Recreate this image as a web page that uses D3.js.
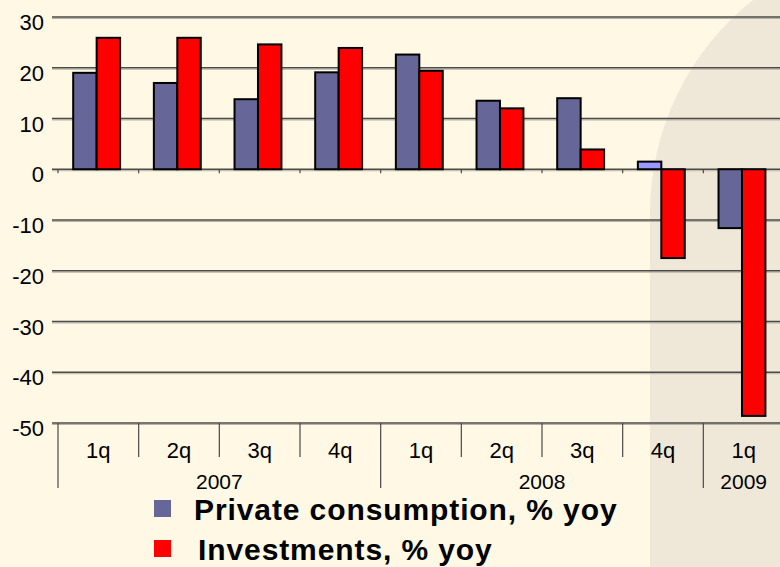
<!DOCTYPE html>
<html>
<head>
<meta charset="utf-8">
<script src="https://cdn.jsdelivr.net/npm/d3@7"></script>
<style>
  html, body { margin: 0; padding: 0; background: #fef8e4; }
  svg { display: block; font-family: "Liberation Sans", Arial, sans-serif; }
</style>
</head>
<body>
<div id="chart"></div>
<script>
var quarters = ['1q', '2q', '3q', '4q', '1q', '2q', '3q', '4q', '1q'];
var yearLabels = ['2007', '2008', '2009'];
var yearSpans = [4, 4, 1];
var seriesNames = ['Private consumption, % yoy', 'Investments, % yoy'];
var consumption = [19.0, 17.0, 13.8, 19.1, 22.6, 13.5, 14.0, 1.5, -11.6];
var investments = [25.9, 25.9, 24.6, 23.9, 19.4, 12.0, 3.9, -17.5, -48.6];
var yTicks = [30, 20, 10, 0, -10, -20, -30, -40, -50];

var width = 780;
var height = 567;
var plot = {left: 58, right: 784, top: 17, bottom: 423};

var svg = d3.select("#chart").append("svg")
    .attr("width", width)
    .attr("height", height);

// background with the shaded shape on the right
svg.append("rect").attr("width", width).attr("height", height).attr("fill", "#fef8e4");
svg.append("path")
    .attr("d", "M650,567 L650,213 A272,272 0 0 1 753,0 L780,0 L780,567 Z")
    .attr("fill", "#efe8d9");

var x = d3.scaleBand()
    .domain(d3.range(quarters.length))
    .range([plot.left, plot.right])
    .padding(0);

var xInner = d3.scaleBand()
    .domain([0, 1])
    .range([0, x.bandwidth()])
    .paddingOuter(0.72)
    .align(0.45);

var y = d3.scaleLinear()
    .domain([-50, 30])
    .range([plot.bottom, plot.top]);

// gridlines
var grid = svg.append("g").attr("class", "grid");
yTicks.forEach(function (t) {
    grid.append("line")
        .attr("x1", 52).attr("x2", width)
        .attr("y1", y(t) + 1.5).attr("y2", y(t) + 1.5)
        .attr("stroke", "#b8b2a4").attr("stroke-width", 1);
    grid.append("line")
        .attr("x1", 52).attr("x2", width)
        .attr("y1", y(t)).attr("y2", y(t))
        .attr("stroke", "#4a4a4a").attr("stroke-width", 1.4);
});

// y labels
svg.append("g").selectAll("text")
    .data(yTicks)
    .enter().append("text")
    .attr("x", 44)
    .attr("y", function (d) { return y(d) + 13; })
    .attr("text-anchor", "end")
    .attr("font-size", 22)
    .attr("fill", "#000")
    .text(function (d) { return d; });

// ticks on the zero line
svg.append("g").selectAll("line")
    .data(d3.range(quarters.length + 1))
    .enter().append("line")
    .attr("x1", function (i) { return plot.left + i * x.step(); })
    .attr("x2", function (i) { return plot.left + i * x.step(); })
    .attr("y1", y(0)).attr("y2", y(0) + 4)
    .attr("stroke", "#4a4a4a").attr("stroke-width", 1.2);

// bars
var seriesData = [consumption, investments];
var barGroup = svg.append("g");
quarters.forEach(function (q, i) {
    seriesData.forEach(function (vals, s) {
        var v = vals[i];
        var fill = s === 1 ? "#ff0000" : (i === 7 ? "#9999ff" : "#666699");
        barGroup.append("rect")
            .attr("x", x(i) + xInner(s))
            .attr("width", xInner.bandwidth())
            .attr("y", y(Math.max(0, v)))
            .attr("height", Math.abs(y(v) - y(0)))
            .attr("fill", fill)
            .attr("stroke", "#000")
            .attr("stroke-width", 2);
    });
});

// category axis: dividers and labels
var axisG = svg.append("g");
var yearStarts = [0];
yearSpans.forEach(function (n, k) { yearStarts.push(yearStarts[k] + n); });

d3.range(quarters.length + 1).forEach(function (i) {
    var xx = plot.left + i * x.step();
    var isYear = yearStarts.indexOf(i) >= 0;
    axisG.append("line")
        .attr("x1", xx).attr("x2", xx)
        .attr("y1", plot.bottom).attr("y2", isYear ? 488 : 457)
        .attr("stroke", "#4a4a4a").attr("stroke-width", 1.2);
});

axisG.selectAll("text.q")
    .data(quarters)
    .enter().append("text")
    .attr("class", "q")
    .attr("x", function (d, i) { return x(i) + x.bandwidth() / 2; })
    .attr("y", 458)
    .attr("text-anchor", "middle")
    .attr("font-size", 22)
    .text(function (d) { return d; });

axisG.selectAll("text.yr")
    .data(yearLabels)
    .enter().append("text")
    .attr("class", "yr")
    .attr("x", function (d, k) {
        var a = plot.left + yearStarts[k] * x.step();
        var b = plot.left + yearStarts[k + 1] * x.step();
        return (a + b) / 2;
    })
    .attr("y", 489)
    .attr("text-anchor", "middle")
    .attr("font-size", 21)
    .text(function (d) { return d; });

// legend
var legendColors = ["#666699", "#ff0000"];
var legendY = [500, 540];
var legendTextX = [194, 198];
var legend = svg.append("g");
seriesNames.forEach(function (name, k) {
    legend.append("rect")
        .attr("x", 154).attr("y", legendY[k])
        .attr("width", 17).attr("height", 17)
        .attr("fill", legendColors[k]);
    legend.append("text")
        .attr("x", legendTextX[k])
        .attr("y", legendY[k] + 20)
        .attr("font-size", 30)
        .attr("letter-spacing", 0.9)
        .attr("font-weight", "bold")
        .text(name);
});
</script>
</body>
</html>
